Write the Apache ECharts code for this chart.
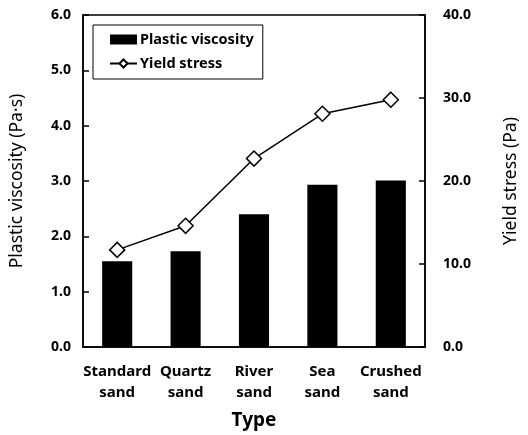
<!DOCTYPE html>
<html>
<head>
<meta charset="utf-8">
<script src="https://cdn.jsdelivr.net/npm/echarts@6/dist/echarts.min.js"></script>
<style>html,body{margin:0;padding:0;background:#fff;}#c{width:528px;height:435px;}</style>
</head>
<body>
<div id="c"></div>
<script>
const categories = ['Standard\nsand', 'Quartz\nsand', 'River\nsand', 'Sea\nsand', 'Crushed\nsand'];
const plasticViscosity = [1.55, 1.73, 2.40, 2.93, 3.01];
const yieldStress = [11.7, 14.6, 22.7, 28.1, 29.8];
const leftTicks = { min: 0, max: 6, interval: 1 };
const rightTicks = { min: 0, max: 40, interval: 10 };

const FONT = "'Noto Sans', 'Open Sans', sans-serif";
const chart = echarts.init(document.getElementById('c'), null, { renderer: 'canvas' });
const axisLabelStyle = { color: '#000', fontFamily: FONT, fontWeight: 'bold', fontSize: 14 };
chart.setOption({
  animation: false,
  backgroundColor: '#fff',
  grid: { left: 82, right: 93, top: 15, bottom: 87, show: true, borderColor: '#000', borderWidth: 1.5, backgroundColor: 'transparent' },
  legend: {
    orient: 'vertical', left: 93, top: 25,
    borderColor: '#000', borderWidth: 1, padding: [7, 9, 8, 16], itemGap: 9,
    itemWidth: 27, itemHeight: 10,
    textStyle: { color: '#000', fontFamily: FONT, fontWeight: 'bold', fontSize: 14.5, padding: [0, 0, 0, -2] },
    data: [
      { name: 'Plastic viscosity', icon: 'rect' },
      { name: 'Yield stress' }
    ]
  },
  xAxis: {
    type: 'category', data: categories,
    axisLine: { lineStyle: { color: '#000', width: 1.5 } },
    axisTick: { inside: true, length: 6, lineStyle: { color: '#000', width: 1.5 } },
    axisLabel: Object.assign({}, axisLabelStyle, { fontSize: 15, lineHeight: 21, margin: 14, interval: 0 }),
    name: 'Type', nameLocation: 'middle', nameGap: 64,
    nameTextStyle: { color: '#000', fontFamily: FONT, fontWeight: 'bold', fontSize: 19 }
  },
  yAxis: [
    {
      type: 'value', min: leftTicks.min, max: leftTicks.max, interval: leftTicks.interval,
      axisLine: { show: true, lineStyle: { color: '#000', width: 1.5 } },
      axisTick: { show: true, inside: true, length: 6, lineStyle: { color: '#000', width: 1.5 } },
      splitLine: { show: false },
      axisLabel: Object.assign({}, axisLabelStyle, { margin: 12, formatter: v => v.toFixed(1) }),
      name: 'Plastic viscosity (Pa\u00b7s)', nameLocation: 'middle', nameGap: 57, nameRotate: 90,
      nameTextStyle: { color: '#000', fontFamily: FONT, fontWeight: 'normal', fontSize: 17.5 }
    },
    {
      type: 'value', min: rightTicks.min, max: rightTicks.max, interval: rightTicks.interval,
      position: 'right',
      axisLine: { show: true, lineStyle: { color: '#000', width: 1.5 } },
      axisTick: { show: true, inside: true, length: 6, lineStyle: { color: '#000', width: 1.5 } },
      splitLine: { show: false },
      axisLabel: Object.assign({}, axisLabelStyle, { margin: 18, formatter: v => v.toFixed(1) }),
      name: 'Yield stress (Pa)', nameLocation: 'middle', nameGap: 77, nameRotate: 90,
      nameTextStyle: { color: '#000', fontFamily: FONT, fontWeight: 'normal', fontSize: 17.5 }
    }
  ],
  series: [
    {
      name: 'Plastic viscosity', type: 'bar', yAxisIndex: 0, data: plasticViscosity,
      barWidth: '44%', itemStyle: { color: '#000' }
    },
    {
      name: 'Yield stress', type: 'line', yAxisIndex: 1, data: yieldStress,
      symbol: 'diamond', symbolSize: 15, showAllSymbol: true,
      lineStyle: { color: '#000', width: 1.5 },
      itemStyle: { color: '#fff', borderColor: '#000', borderWidth: 1.5 }
    }
  ]
});
</script>
</body>
</html>
